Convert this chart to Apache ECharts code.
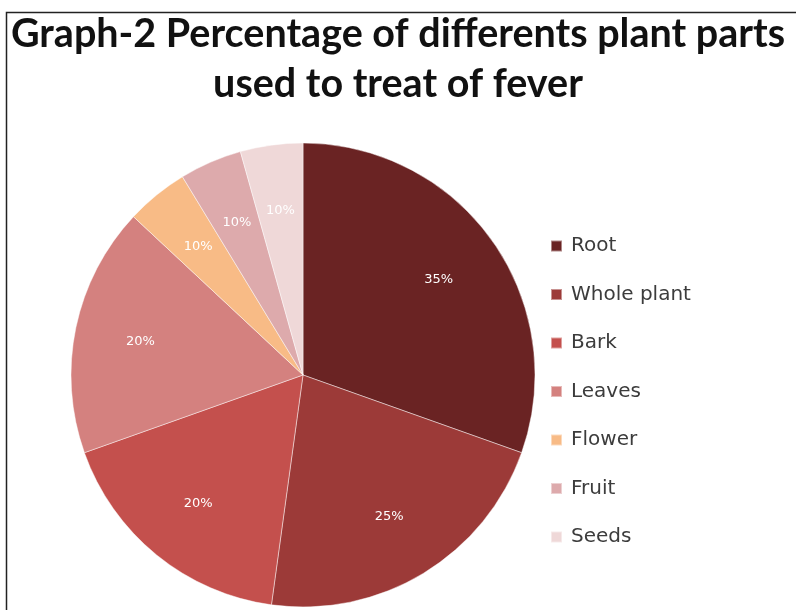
<!DOCTYPE html>
<html>
<head>
<meta charset="utf-8">
<script src="https://cdn.jsdelivr.net/npm/echarts@6/dist/echarts.min.js"></script>
<style>
  html, body { margin: 0; padding: 0; background: #fff; }
  #chart { width: 796px; height: 610px; }
</style>
</head>
<body>
<div id="chart"></div>
<script>
// plant parts and their share (slice sizes)
var parts = ['Root', 'Whole plant', 'Bark', 'Leaves', 'Flower', 'Fruit', 'Seeds'];
var values = [35, 25, 20, 20, 5, 5, 5];
// the labels printed on the slices in the original
var labels = ['35%', '25%', '20%', '20%', '10%', '10%', '10%'];
var colors = ['#6a2323', '#9c3a38', '#c4504d', '#d4817f', '#f8bb86', '#ddaaac', '#efd8d8'];
var titleLines = ['Graph-2 Percentage of differents plant parts', 'used to treat of fever'];

var myChart = echarts.init(document.getElementById('chart'));

var pieData = parts.map(function (name, i) {
  return { name: name, value: values[i], itemStyle: { color: colors[i] } };
});
// same slices again, only to carry the labels further out from the centre
var labelData = parts.map(function (name, i) {
  return { name: name, value: values[i], label: { formatter: labels[i] } };
});

var titleStyle = {
  fontFamily: 'Lato',
  fontWeight: 'bold',
  fontSize: 39.5,
  color: '#111'
};

var option = {
  animation: false,
  title: [
    { text: titleLines[0], left: 'center', top: 9, textStyle: titleStyle },
    { text: titleLines[1], left: 'center', top: 59, textStyle: titleStyle }
  ],
  legend: {
    orient: 'vertical',
    left: 545,
    top: 231,
    itemWidth: 11,
    itemHeight: 11,
    itemGap: 28.5,
    icon: 'rect',
    data: parts,
    textStyle: {
      fontFamily: 'DejaVu Sans',
      fontSize: 20,
      color: '#3c3c3c',
      padding: [0, 0, 0, 4]
    }
  },
  graphic: [{
    type: 'rect',
    left: 4,
    top: 10,
    shape: { width: 820, height: 700 },
    style: { fill: 'none', stroke: '#222', lineWidth: 1.5 },
    silent: true
  }],
  series: [
    {
      name: 'parts',
      type: 'pie',
      center: [303, 375],
      radius: [0, 232],
      startAngle: 90,
      label: { show: false },
      labelLine: { show: false },
      itemStyle: { borderColor: 'rgba(255,255,255,0.45)', borderWidth: 1 },
      data: pieData
    },
    {
      name: 'labels',
      type: 'pie',
      center: [303, 375],
      radius: [94, 232],
      startAngle: 90,
      silent: true,
      itemStyle: { color: 'rgba(0,0,0,0)' },
      label: {
        show: true,
        position: 'inside',
        fontFamily: 'DejaVu Sans',
        fontSize: 13,
        color: '#fff'
      },
      labelLine: { show: false },
      data: labelData
    }
  ]
};

myChart.setOption(option);
</script>
</body>
</html>
